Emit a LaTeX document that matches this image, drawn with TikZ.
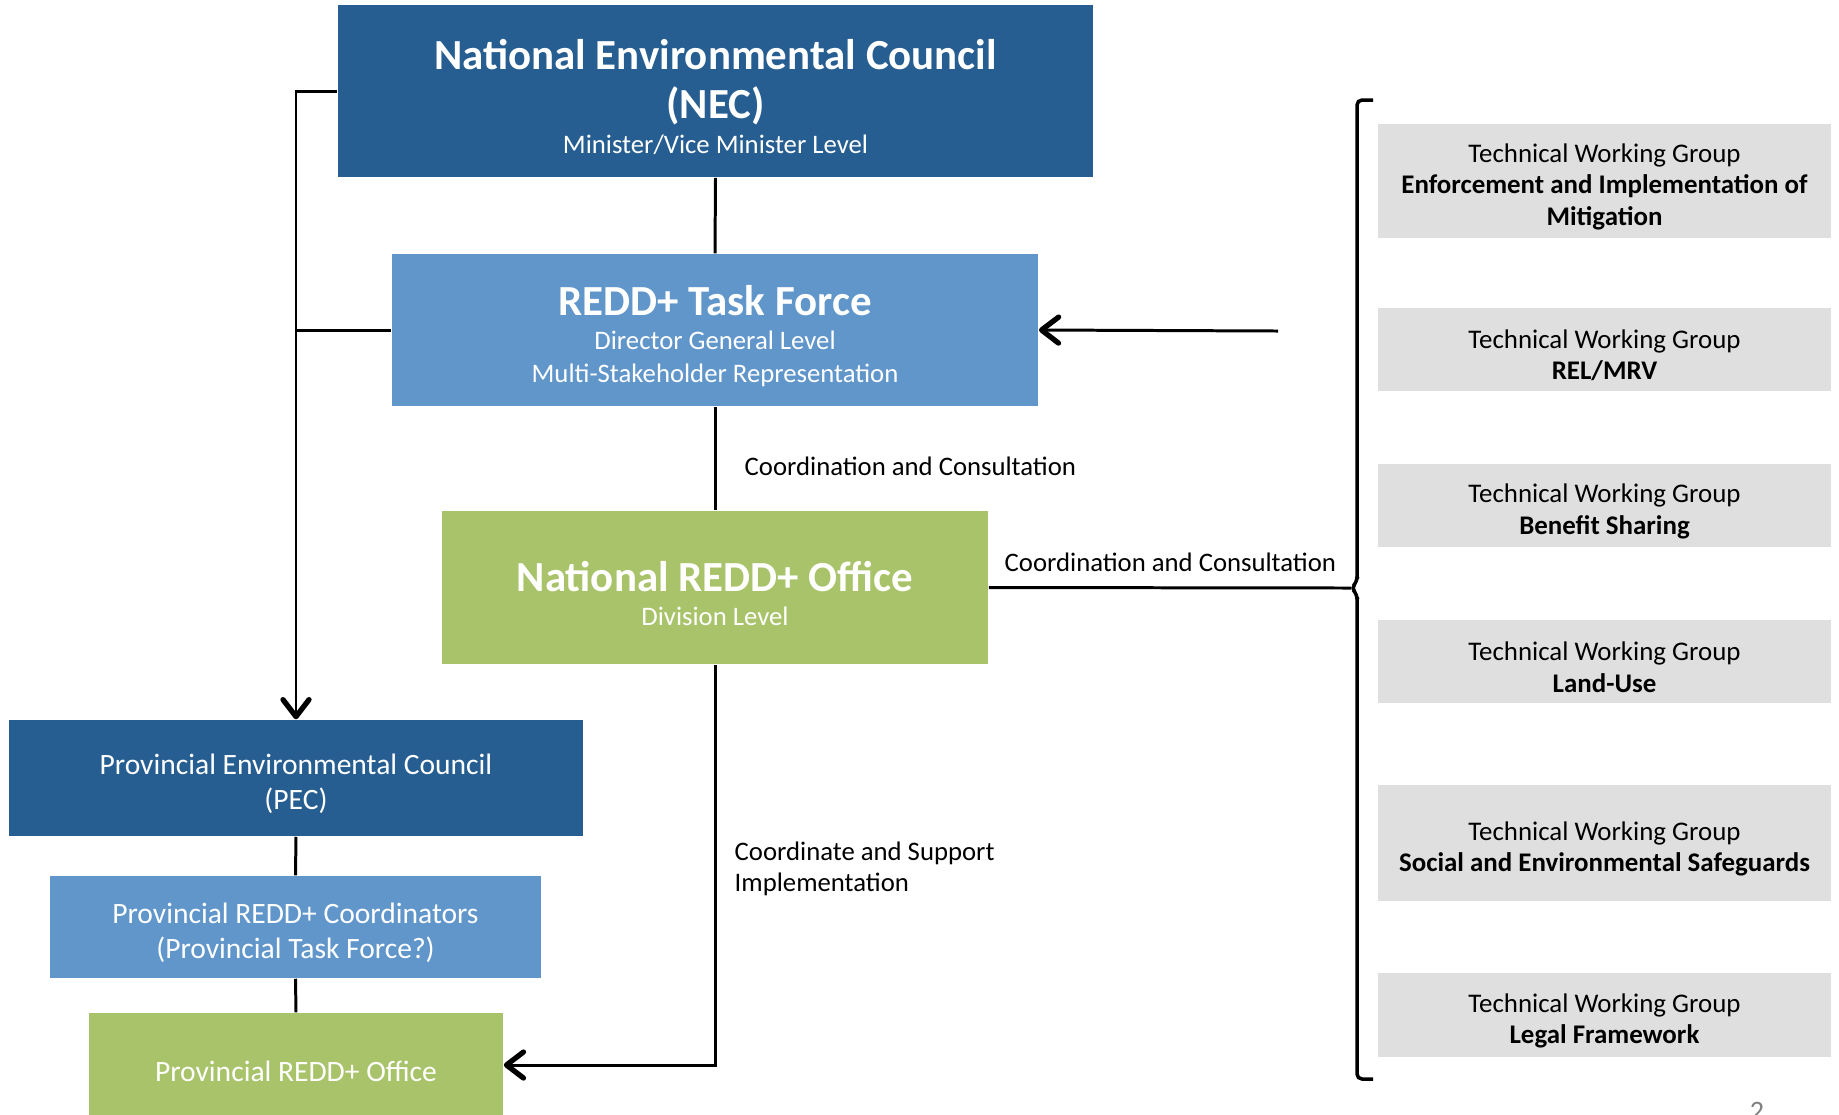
\documentclass[tikz,border=0pt]{standalone}
\usepackage{fontspec}
\setmainfont{Carlito}
\usetikzlibrary{arrows.meta}

\definecolor{necblue}{HTML}{275E91}
\definecolor{tfblue}{HTML}{6196CB}
\definecolor{officegreen}{HTML}{A8C36A}
\definecolor{twggrey}{HTML}{DFDFDF}

\newcommand{\bigtitle}{\fontsize{12.2}{14}\selectfont\bfseries}
\newcommand{\smalltext}{\fontsize{7.6}{9.3}\selectfont}
\newcommand{\provtext}{\fontsize{8.4}{10}\selectfont}
% raise the first line a little, as in the original slide
\newcommand{\lift}[1]{\rule{0pt}{#1}}

\tikzset{
  box/.style={inner sep=0pt, align=center, text=white},
  provbox/.style={box, font=\provtext},
  twg/.style={fill=twggrey, inner sep=0pt, align=center, minimum width=4.53cm,
    font=\fontsize{7.65}{9}\selectfont},
  conn/.style={line width=0.85pt},
  arr/.style={conn, -{Straight Barb[length=0.17cm,width=0.26cm,line width=1.5pt,round]}},
  lbl/.style={anchor=west, inner sep=0pt, align=left, font=\fontsize{7.6}{9}\selectfont}
}

\begin{document}
\begin{tikzpicture}[x=0.01cm,y=-0.01cm]
  \useasboundingbox (0,0) rectangle (1839,1114);

  % national level
  \node[box, fill=necblue, font=\fontsize{7.6}{14}\selectfont, minimum width=7.55cm, minimum height=1.72cm] (nec) at (715.5,91)
    {\bigtitle\lift{11.9pt}National Environmental Council\\\bigtitle (NEC)\\[-4.25pt]\smalltext Minister/Vice Minister Level};
  \node[box, fill=tfblue, font=\smalltext, minimum width=6.46cm, minimum height=1.52cm] (tf) at (715,330)
    {\bigtitle\lift{11.9pt}REDD+ Task Force\\[0.45pt]Director General Level\\Multi-Stakeholder Representation};
  \node[box, fill=officegreen, font=\smalltext, minimum width=5.46cm, minimum height=1.53cm] (nro) at (715,587.5)
    {\bigtitle\lift{11.9pt}National REDD+ Office\\[0.45pt]Division Level};

  % provincial level
  \node[provbox, fill=necblue, minimum width=5.74cm, minimum height=1.16cm] (pec) at (296,778)
    {\lift{9.15pt}Provincial Environmental Council\\(PEC)};
  \node[provbox, fill=tfblue, minimum width=4.91cm, minimum height=1.02cm] (prc) at (295.5,927)
    {\lift{9.15pt}Provincial REDD+ Coordinators\\(Provincial Task Force?)};
  \node[provbox, fill=officegreen, minimum width=4.14cm, minimum height=1.04cm] (pro) at (296,1065)
    {\lift{9.15pt}Provincial REDD+ Office};

  % technical working groups
  \node[twg, minimum height=1.14cm] (twgmit) at (1604.5,181)
    {\lift{8.6pt}Technical Working Group\\\textbf{Enforcement and Implementation of}\\\textbf{Mitigation}};
  \node[twg, minimum height=0.83cm] (twgrel) at (1604.5,349.5)
    {\lift{8.6pt}Technical Working Group\\\textbf{REL/MRV}};
  \node[twg, minimum height=0.83cm] (twgben) at (1604.5,505.5)
    {\lift{8.6pt}Technical Working Group\\\textbf{Benefit Sharing}};
  \node[twg, minimum height=0.83cm] (twgland) at (1604.5,661.5)
    {\lift{8.6pt}Technical Working Group\\\textbf{Land-Use}};
  \node[twg, minimum height=1.16cm] (twgsoc) at (1604.5,843)
    {\lift{8.6pt}Technical Working Group\\\textbf{Social and Environmental Safeguards}};
  \node[twg, minimum height=0.84cm] (twglegal) at (1604.5,1015)
    {\lift{8.6pt}Technical Working Group\\\textbf{Legal Framework}};

  % brace round the working groups
  \coordinate (bracetip) at (1351,588);
  \draw[line width=1pt, rounded corners=0.05cm] (1373,100) -- (1357,100) -- (1357,582) -- (bracetip)
    -- (1357,594) -- (1357,1079) -- (1373,1079);
  \coordinate (twgin) at (1278,331);

  % connectors
  \draw[conn] (nec.south) -- (tf.north);
  \draw[conn] (tf.south) -- (nro.north);
  \draw[arr] (nec.west) -| (pec.north);
  \draw[conn] (tf.west) -- (pec.north |- tf.west);
  \draw[arr] (twgin) -- (tf.east);
  \draw[conn] (nro.east) -- (bracetip);
  \draw[arr] (nro.south) |- (pro.east);
  \draw[conn] (pec.south) -- (prc.north);
  \draw[conn] (prc.south) -- (pro.north);

  % labels
  \node[lbl] (lblcc) at (744,466) {Coordination and Consultation};
  \node[lbl] (lbltwg) at (1004,562) {Coordination and Consultation};
  \node[lbl] (lblsup) at (734,869) {Coordinate and Support\\Implementation};

  \node[anchor=base, text=gray, font=\fontsize{8}{10}\selectfont] (pagenum) at (1757,1120) {2};
\end{tikzpicture}
\end{document}
